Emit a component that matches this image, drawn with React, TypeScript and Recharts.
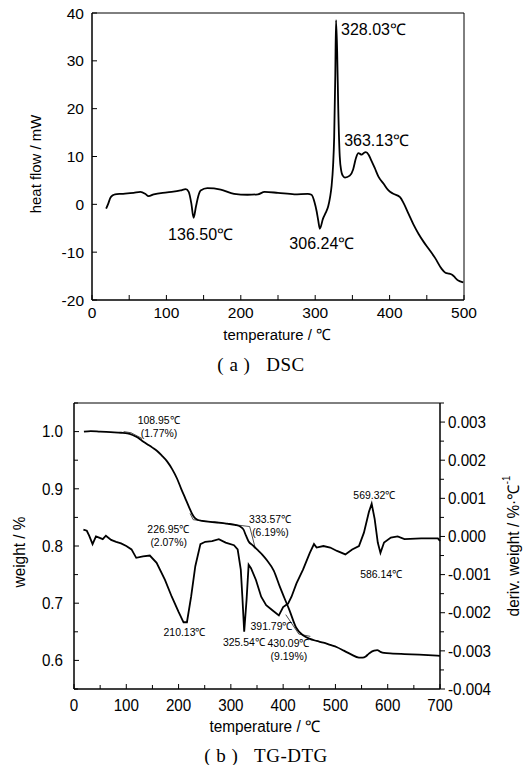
import React from 'react'
import { LineChart, Line, XAxis, YAxis, ReferenceDot, ReferenceArea } from 'recharts'

const FONT = "'Liberation Sans', Arial, sans-serif"
const SERIF = "'Liberation Serif', 'Times New Roman', serif"

// (a) DSC
const dscTemp = [19, 22, 24.5, 28, 31, 40, 56, 65, 71.5, 76, 83, 101, 119, 126, 130, 133.5, 136.5, 139.8, 143, 146, 155, 173, 191, 209, 223, 232, 250, 272, 290, 295, 299, 302, 304, 306.2, 310.5, 314, 317.5, 320, 322, 324, 325.5, 327, 328, 329.5, 331, 333, 335, 337, 340, 346.5, 351, 355, 358, 362.5, 365, 368, 372, 375, 380, 385, 392, 398.5, 405, 414, 419, 425.5, 432, 439, 446, 452.5, 461.5, 470, 475, 480, 484, 488, 491, 495, 499]
const dscHeat = [-0.9, 0.2, 1.3, 1.9, 2.1, 2.2, 2.4, 2.6, 2.2, 1.7, 2.1, 2.5, 2.9, 3.2, 2.6, 0.2, -2.8, -0.4, 1.8, 2.9, 3.4, 3.1, 2.2, 2.0, 2.1, 2.6, 2.4, 2.1, 2.2, 2.0, 0.5, -1.5, -3.3, -5.1, -3.0, -1.8, -0.4, 1.5, 3.8, 8, 14, 27, 38.5, 32, 20, 10, 7, 6, 5.6, 6.0, 7.3, 9.8, 10.7, 10.4, 10.7, 10.9, 10.3, 9.3, 7.6, 5.8, 4.3, 2.9, 2.2, 1.5, 0.2, -2.0, -4.2, -6.2, -7.9, -9.3, -11.3, -13.5, -14.3, -14.5, -14.7, -15.3, -15.8, -16.1, -16.3]
const dscXTicks = [0, 50, 100, 150, 200, 250, 300, 350, 400, 450, 500]
const dscYTicks = [-20, -10, 0, 10, 20, 30, 40]

// (b) TG-DTG
const tgTemp = [19, 32, 50, 70, 90, 102, 112, 121, 130, 140, 150, 159, 168, 178, 188, 197, 205, 213, 220, 226, 231, 236, 245, 261, 277, 293, 308, 318, 324, 329, 334, 342, 350, 360, 369, 382, 394, 402, 412, 425, 438, 450, 464, 477, 490, 503, 516, 529, 545, 552, 558, 563, 567, 574, 580, 586, 593, 610, 632, 660, 700]
const tgWeight = [1.0, 1.001, 1.0, 0.999, 0.998, 0.997, 0.994, 0.99, 0.984, 0.978, 0.972, 0.966, 0.958, 0.948, 0.934, 0.918, 0.9, 0.883, 0.868, 0.856, 0.849, 0.846, 0.844, 0.842, 0.841, 0.839, 0.837, 0.834, 0.829, 0.818, 0.808, 0.801, 0.794, 0.785, 0.775, 0.757, 0.728, 0.71, 0.688, 0.657, 0.644, 0.638, 0.634, 0.631, 0.627, 0.623, 0.617, 0.611, 0.605, 0.605, 0.607, 0.611, 0.614, 0.617, 0.618, 0.615, 0.613, 0.612, 0.611, 0.61, 0.608]
const dtgTemp = [18, 24.5, 29, 35.5, 42, 48, 55, 61, 71, 80.6, 90, 100, 110, 119, 132, 145, 158, 174, 187, 200, 209.5, 216, 224, 232, 241.8, 251, 264, 277, 290, 306, 313, 319, 322, 325.5, 330, 334, 338.5, 348, 358, 367.5, 380, 391.8, 400, 409.4, 416, 425.5, 438, 451, 459, 464, 477, 490, 503, 519, 532, 545, 554.5, 564, 569.3, 575, 581, 586.1, 593, 606, 619, 632, 664, 696, 700]
const dtgDeriv = [0.00018, 0.00015, 0.00002, -0.0002, 0.0, -0.00003, -0.00007, 0.00002, -0.00009, -0.00014, -0.00018, -0.00025, -0.00034, -0.00056, -0.00052, -0.0005, -0.00069, -0.00114, -0.00158, -0.00198, -0.00225, -0.00225, -0.00158, -0.00078, -0.0002, -0.00014, -0.00012, -0.00007, -0.00016, -0.00023, -0.00034, -0.00087, -0.00158, -0.0025, -0.00167, -0.00074, -0.00083, -0.00114, -0.00158, -0.0018, -0.00194, -0.00207, -0.00185, -0.00176, -0.00158, -0.00123, -0.00087, -0.00043, -0.0002, -0.00029, -0.00025, -0.00029, -0.00038, -0.00047, -0.00034, -0.00025, 0.0001, 0.00064, 0.00086, 0.00046, -0.00016, -0.00043, -0.00016, -0.00003, 0.0, -0.00007, -0.00005, -0.00005, -0.00012]
// onset tangent construction lines
const tangentTemp = [[95, 109, 130], [222, 228, 336, 347], [405, 430, 452]]
const tangentWeight = [[1.0, 0.998, 0.988], [0.857, 0.846, 0.834, 0.795], [0.68, 0.646, 0.642]]
const tgXTicks = [0, 50, 100, 150, 200, 250, 300, 350, 400, 450, 500, 550, 600, 650, 700]
const tgYTicks = [0.55, 0.6, 0.65, 0.7, 0.75, 0.8, 0.85, 0.9, 0.95, 1.0, 1.05]
const dtgYTicks = [-0.004, -0.0035, -0.003, -0.0025, -0.002, -0.0015, -0.001, -0.0005, 0, 0.0005, 0.001, 0.0015, 0.002, 0.0025, 0.003, 0.0035]

const zip = (xs: number[], ys: number[]) => xs.map((t, i) => ({ t, v: ys[i] }))
const dscData = zip(dscTemp, dscHeat)
const tgData = zip(tgTemp, tgWeight)
const dtgData = zip(dtgTemp, dtgDeriv)
const tangents = tangentTemp.map((xs, i) => zip(xs, tangentWeight[i]))

const isMult = (v: number, step: number) => Math.abs(v / step - Math.round(v / step)) < 1e-6

// text squeezed horizontally, the figure uses a narrow face
const NText = ({ x, y, anchor = 'middle', size, rotate = 0, baseline, sx = 0.92, family = FONT, children }: any) => (
	<text transform={`translate(${x} ${y}) rotate(${rotate}) scale(${sx} 1)`} x={0} y={0} textAnchor={anchor}
		dominantBaseline={baseline} fontSize={size} fontFamily={family} fill="#000">{children}</text>
)

const AxisTick = (props: any) => {
	const { x, y, payload, side, fmt, major, len, minorLen, gap, fontSize, outward, sx } = props
	const v = payload.value
	const isMajor = major(v)
	const l = isMajor ? len : minorLen
	const label = isMajor ? fmt(v) : ''
	if (side === 'left') {
		return (
			<g>
				<line x1={x} y1={y} x2={x + l} y2={y} stroke="#000" strokeWidth={1} />
				{label && <NText x={x - gap} y={y} anchor="end" baseline="central" size={fontSize} sx={sx}>{label}</NText>}
			</g>
		)
	}
	if (side === 'right') {
		const d = outward ? l : -l
		return (
			<g>
				<line x1={x} y1={y} x2={x + d} y2={y} stroke="#000" strokeWidth={1} />
				{label && <NText x={x + gap} y={y} anchor="start" baseline="central" size={fontSize} sx={sx}>{label}</NText>}
			</g>
		)
	}
	return (
		<g>
			<line x1={x} y1={y} x2={x} y2={y - l} stroke="#000" strokeWidth={1} />
			{label && <NText x={x} y={y + gap} anchor="middle" baseline="hanging" size={fontSize} sx={sx}>{label}</NText>}
		</g>
	)
}

const Anno = (props: any) => {
	const { viewBox, lines, dx, dy, anchor = 'middle', size, lh, sx = 1 } = props
	const cx = viewBox.x + (viewBox.width || 0) / 2 + dx
	const cy = viewBox.y + (viewBox.height || 0) / 2 + dy
	return (
		<text transform={`translate(${cx} ${cy}) scale(${sx} 1)`} x={0} y={0} textAnchor={anchor} fontSize={size} fontFamily={FONT} fill="#000">
			{lines.map((s: string, i: number) => (
				<tspan key={i} x={0} dy={i === 0 ? 0 : lh}>{s}</tspan>
			))}
		</text>
	)
}

const dscAnnos = [
	{ t: 328.03, v: 38.5, lines: ['328.03℃'], dx: 5, dy: 15, anchor: 'start' },
	{ t: 363.13, v: 10.5, lines: ['363.13℃'], dx: -18, dy: -8, anchor: 'start' },
	{ t: 136.5, v: -2.8, lines: ['136.50℃'], dx: 7, dy: 22, anchor: 'middle' },
	{ t: 306.24, v: -5.1, lines: ['306.24℃'], dx: 2, dy: 20, anchor: 'middle' },
]
const tgAnnos = [
	{ t: 108.95, v: 0.997, lines: ['108.95℃', '(1.77%)'], dx: 28, dy: -9 },
	{ t: 226.95, v: 0.847, lines: ['226.95℃', '(2.07%)'], dx: -24, dy: 14 },
	{ t: 333.57, v: 0.834, lines: ['333.57℃', '(6.19%)'], dx: 22, dy: -4 },
	{ t: 430.09, v: 0.646, lines: ['430.09℃', '(9.19%)'], dx: -10, dy: 13 },
]
const dtgAnnos = [
	{ t: 210.13, v: -0.00225, lines: ['210.13℃'], dx: 1, dy: 14 },
	{ t: 325.54, v: -0.0025, lines: ['325.54℃'], dx: 0, dy: 14 },
	{ t: 391.79, v: -0.00207, lines: ['391.79℃'], dx: -7, dy: 15 },
	{ t: 569.32, v: 0.00086, lines: ['569.32℃'], dx: 3, dy: -5 },
	{ t: 586.14, v: -0.00043, lines: ['586.14℃'], dx: 1, dy: 25 },
]

const DscChart = () => (
	<LineChart width={528} height={345} margin={{ top: 13, right: 64, left: 42, bottom: 15 }}>
		<XAxis dataKey="t" type="number" domain={[0, 500]} ticks={dscXTicks} interval={0} height={30}
			axisLine={{ stroke: '#000' }} tickLine={false} tickSize={0} tickMargin={0}
			tick={(p: any) => <AxisTick {...p} side="bottom" fmt={(v: number) => `${v}`} major={(v: number) => isMult(v, 100)} len={5} minorLen={5} gap={7} fontSize={15.5} sx={1} />} />
		<YAxis type="number" domain={[-20, 40]} ticks={dscYTicks} interval={0} width={50} allowDataOverflow
			axisLine={{ stroke: '#000' }} tickLine={false} tickSize={0} tickMargin={0}
			tick={(p: any) => <AxisTick {...p} side="left" fmt={(v: number) => `${v}`} major={() => true} len={5} minorLen={5} gap={8} fontSize={15.5} sx={1} />} />
		<ReferenceArea x1={0} x2={500} y1={-20} y2={40} fill="none" stroke="#000" strokeWidth={1} />
		<Line data={dscData} dataKey="v" type="monotone" stroke="#000" strokeWidth={1.8} dot={false} isAnimationActive={false} />
		{dscAnnos.map((a, i) => (
			<ReferenceDot key={i} x={a.t} y={a.v} r={0} stroke="none" fill="none"
				label={<Anno lines={a.lines} dx={a.dx} dy={a.dy} anchor={a.anchor} size={16} lh={16} />} />
		))}
	</LineChart>
)

const TgChart = () => (
	<LineChart width={528} height={385} margin={{ top: 23, right: 28, left: 24, bottom: 46 }}>
		<XAxis dataKey="t" type="number" domain={[0, 700]} ticks={tgXTicks} interval={0} height={30}
			axisLine={{ stroke: '#000' }} tickLine={false} tickSize={0} tickMargin={0}
			tick={(p: any) => <AxisTick {...p} side="bottom" fmt={(v: number) => `${v}`} major={(v: number) => isMult(v, 100)} len={5} minorLen={4} gap={10} fontSize={16.5} sx={0.92} />} />
		<YAxis yAxisId="w" type="number" domain={[0.55, 1.05]} ticks={tgYTicks} interval={0} width={50} allowDataOverflow
			axisLine={{ stroke: '#000' }} tickLine={false} tickSize={0} tickMargin={0}
			tick={(p: any) => <AxisTick {...p} side="left" fmt={(v: number) => v.toFixed(1)} major={(v: number) => isMult(v, 0.1)} len={5} minorLen={4} gap={11} fontSize={16.5} sx={0.92} />} />
		<YAxis yAxisId="d" orientation="right" type="number" domain={[-0.004, 0.0035]} ticks={dtgYTicks} interval={0} width={60} allowDataOverflow
			axisLine={{ stroke: '#000' }} tickLine={false} tickSize={0} tickMargin={0}
			tick={(p: any) => <AxisTick {...p} side="right" outward fmt={(v: number) => v.toFixed(3)} major={(v: number) => isMult(v, 0.001)} len={5} minorLen={4} gap={8} fontSize={16.5} sx={0.92} />} />
		<ReferenceArea yAxisId="w" x1={0} x2={700} y1={0.55} y2={1.05} fill="none" stroke="#000" strokeWidth={1} />
		{tangents.map((d, i) => (
			<Line key={i} yAxisId="w" data={d} dataKey="v" type="linear" stroke="#222" strokeWidth={0.8} dot={false} isAnimationActive={false} />
		))}
		<Line yAxisId="w" data={tgData} dataKey="v" type="monotone" stroke="#000" strokeWidth={1.8} dot={false} isAnimationActive={false} />
		<Line yAxisId="d" data={dtgData} dataKey="v" type="linear" stroke="#000" strokeWidth={1.8} dot={false} isAnimationActive={false} />
		{tgAnnos.map((a, i) => (
			<ReferenceDot key={'w' + i} yAxisId="w" x={a.t} y={a.v} r={0} stroke="none" fill="none"
				label={<Anno lines={a.lines} dx={a.dx} dy={a.dy} size={11} lh={13} sx={0.95} />} />
		))}
		{dtgAnnos.map((a, i) => (
			<ReferenceDot key={'d' + i} yAxisId="d" x={a.t} y={a.v} r={0} stroke="none" fill="none"
				label={<Anno lines={a.lines} dx={a.dx} dy={a.dy} size={11} lh={13} sx={0.95} />} />
		))}
	</LineChart>
)

export default function App() {
	return (
		<div style={{ position: 'absolute', left: 0, top: 0, width: 528, height: 765, background: '#fff', fontFamily: FONT }}>
			<div style={{ position: 'absolute', left: 0, top: 0 }}><DscChart /></div>
			<div style={{ position: 'absolute', left: 0, top: 380 }}><TgChart /></div>
			<svg width={528} height={765} style={{ position: 'absolute', left: 0, top: 0, pointerEvents: 'none' }}>
				<NText x={35} y={164} rotate={-90} baseline="central" size={15.5} sx={0.96}>heat flow / mW</NText>
				<NText x={277} y={334} baseline="central" size={15.5} sx={0.96}>temperature / ℃</NText>
				<text x={261} y={364} textAnchor="middle" dominantBaseline="central" fontSize={19} letterSpacing={0.5} fontFamily={SERIF}>(&#160;a&#160;)&#160;&#160;&#160;DSC</text>
				<NText x={19} y={552} rotate={-90} baseline="central" size={16} sx={0.96}>weight / %</NText>
				<NText x={513} y={546} rotate={-90} baseline="central" size={16} sx={0.96}>
					deriv. weight / %·℃<tspan dy={-7} fontSize={10}>-1</tspan>
				</NText>
				<NText x={265} y={726} baseline="central" size={16} sx={0.96}>temperature / ℃</NText>
				<text x={266} y={755} textAnchor="middle" dominantBaseline="central" fontSize={19} letterSpacing={0.5} fontFamily={SERIF}>(&#160;b&#160;)&#160;&#160;&#160;TG-DTG</text>
			</svg>
		</div>
	)
}
